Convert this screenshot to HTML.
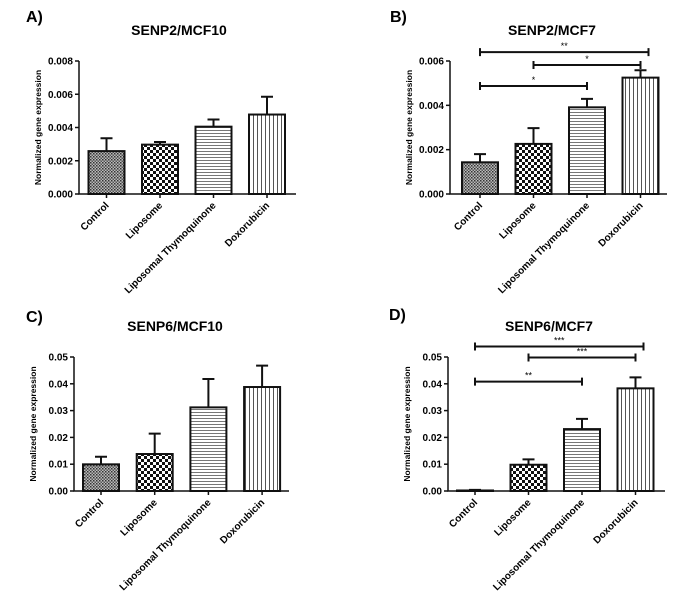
<!DOCTYPE html>
<html><head><meta charset="utf-8"><style>
html,body{margin:0;padding:0;background:#fff;}
svg{display:block;font-family:"Liberation Sans",Arial,sans-serif;}
</style></head><body>
<svg id="fig" width="693" height="607" viewBox="0 0 693 607">
<defs>
<pattern id="pCtrl" width="3" height="3" patternUnits="userSpaceOnUse"><rect width="3" height="3" fill="#bbb"/><rect width="1.5" height="1.5" fill="#333"/><rect x="1.5" y="1.5" width="1.5" height="1.5" fill="#555"/></pattern>
<pattern id="pLipo" width="6" height="6" patternUnits="userSpaceOnUse"><rect width="6" height="6" fill="#fff"/><rect width="3" height="3" fill="#111"/><rect x="3" y="3" width="3" height="3" fill="#111"/></pattern>
<pattern id="pLT" width="4" height="3" patternUnits="userSpaceOnUse"><rect width="4" height="3" fill="#fff"/><rect y="1" width="4" height="1" fill="#777"/></pattern>
<pattern id="pDox" width="4" height="4" patternUnits="userSpaceOnUse"><rect width="4" height="4" fill="#fff"/><rect x="1" width="1" height="4" fill="#555"/></pattern>
</defs>
</svg>
<script>
const categories = ["Control","Liposome","Liposomal Thymoquinone","Doxorubicin"];
const valuesA = [0.00258,0.00297,0.00405,0.00478];
const errorsA = [0.00335,0.00313,0.00448,0.00585];
const valuesB = [0.00143,0.00226,0.00391,0.00525];
const errorsB = [0.0018,0.00297,0.00429,0.00558];
const valuesC = [0.00995,0.0138,0.0312,0.0388];
const errorsC = [0.0128,0.0214,0.0418,0.0468];
const valuesD = [0.0002,0.0098,0.0231,0.0383];
const errorsD = [0.0004,0.0118,0.0269,0.0424];
const ticksAB = ["0.000","0.002","0.004","0.006","0.008"];
const ticksCD = ["0.00","0.01","0.02","0.03","0.04","0.05"];
const sigB = [{from:0,to:3,label:"**",y:0.0064},{from:1,to:3,label:"*",y:0.00582},{from:0,to:2,label:"*",y:0.00487}];
const sigD = [{from:0,to:3,label:"***",y:0.0539},{from:1,to:3,label:"***",y:0.0498},{from:0,to:2,label:"**",y:0.0408}];
const fills = ["url(#pCtrl)","url(#pLipo)","url(#pLT)","url(#pDox)"];
const NS="http://www.w3.org/2000/svg";
const svg=document.getElementById('fig');
function mk(tag,attrs,parent,text){const e=document.createElementNS(NS,tag);for(const k in attrs)e.setAttribute(k,attrs[k]);if(text!==undefined)e.textContent=text;(parent||svg).appendChild(e);return e;}

function panel(o){
  const g=mk('g',{});
  
  
  const ymax=parseFloat(o.ticks[o.ticks.length-1]);
  const y=v=>o.y0-(v/ymax)*(o.y0-o.yTop);
  const x=i=>o.x0+o.firstC+i*o.step;
  const lt=mk('text',{x:o.lx,y:o.ly,'font-size':16,'font-weight':'bold'},g,o.id+')');
  
  
  const t=mk('text',{x:o.tx,y:o.ty,'font-size':14,'font-weight':'bold','text-anchor':'middle'},g,o.title);
  
  
  // bars
  o.values.forEach((v,i)=>{
    const cx=x(i),hw=18;
    const b=mk('rect',{x:cx-hw,y:y(v),width:hw*2,height:o.y0-y(v),fill:fills[i],stroke:'#111','stroke-width':2},g);
    
    
    const e=mk('path',{d:`M${cx},${y(v)}V${y(o.errors[i])}M${cx-6},${y(o.errors[i])}H${cx+6}`,stroke:'#111','stroke-width':2,fill:'none'},g);
    
    
    mk('line',{x1:cx,x2:cx,y1:o.y0,y2:o.y0+4,stroke:'#111','stroke-width':1.5},g);
    const lb=mk('text',{x:0,y:0,'font-size':10,'font-weight':'bold','text-anchor':'end',transform:`translate(${cx+3},${o.y0+12}) rotate(-45)`},g,categories[i]);
    
    
  });
  // axes
  const ax=mk('path',{d:`M${o.x0},${o.yTop}V${o.y0}H${o.xEnd}`,stroke:'#111','stroke-width':1.5,fill:'none'},g);
  
  
  o.ticks.forEach(tk=>{
    const ty=y(parseFloat(tk));
    mk('line',{x1:o.x0-4,x2:o.x0,y1:ty,y2:ty,stroke:'#111','stroke-width':1.5},g);
    const tl=mk('text',{x:o.x0-6,y:ty+3.5,'font-size':10,'font-weight':'bold','text-anchor':'end'},g,tk);
    
    
  });
  const yt=mk('text',{x:0,y:0,'font-size':8.5,'font-weight':'bold','text-anchor':'middle',transform:`translate(${o.x0-38},${(o.y0+o.yTop)/2}) rotate(-90)`},g,'Normalized gene expression');
  
  
  (o.sig||[]).forEach(s=>{
    const x1=x(s.from),x2=x(s.to)+(s.to===3&&s.from===0?8:0),sy=y(s.y);
    const sg=mk('path',{d:`M${x1},${sy}H${x2}M${x1},${sy-4}V${sy+4}M${x2},${sy-4}V${sy+4}`,stroke:'#111','stroke-width':2,fill:'none'},g);
    
    
    const st=mk('text',{x:(x1+x2)/2,y:sy-3,'font-size':9,'text-anchor':'middle'},g,s.label);
    
    
  });
}
panel({id:'A',title:'SENP2/MCF10',values:valuesA,errors:errorsA,ticks:ticksAB,x0:79,xEnd:296,y0:194,yTop:61,firstC:27.5,step:53.5,lx:26,ly:22,tx:179,ty:35});
panel({id:'B',title:'SENP2/MCF7',values:valuesB,errors:errorsB,ticks:ticksAB.slice(0,4),x0:450,xEnd:667,y0:194,yTop:61,firstC:30,step:53.5,sig:sigB,lx:390,ly:22,tx:552,ty:35});
panel({id:'C',title:'SENP6/MCF10',values:valuesC,errors:errorsC,ticks:ticksCD,x0:74,xEnd:289,y0:491,yTop:357,firstC:27,step:53.7,lx:26,ly:322,tx:175,ty:331});
panel({id:'D',title:'SENP6/MCF7',values:valuesD,errors:errorsD,ticks:ticksCD,x0:448,xEnd:665,y0:491,yTop:357,firstC:27,step:53.5,sig:sigD,lx:389,ly:320,tx:549,ty:331});
</script>
</body></html>
